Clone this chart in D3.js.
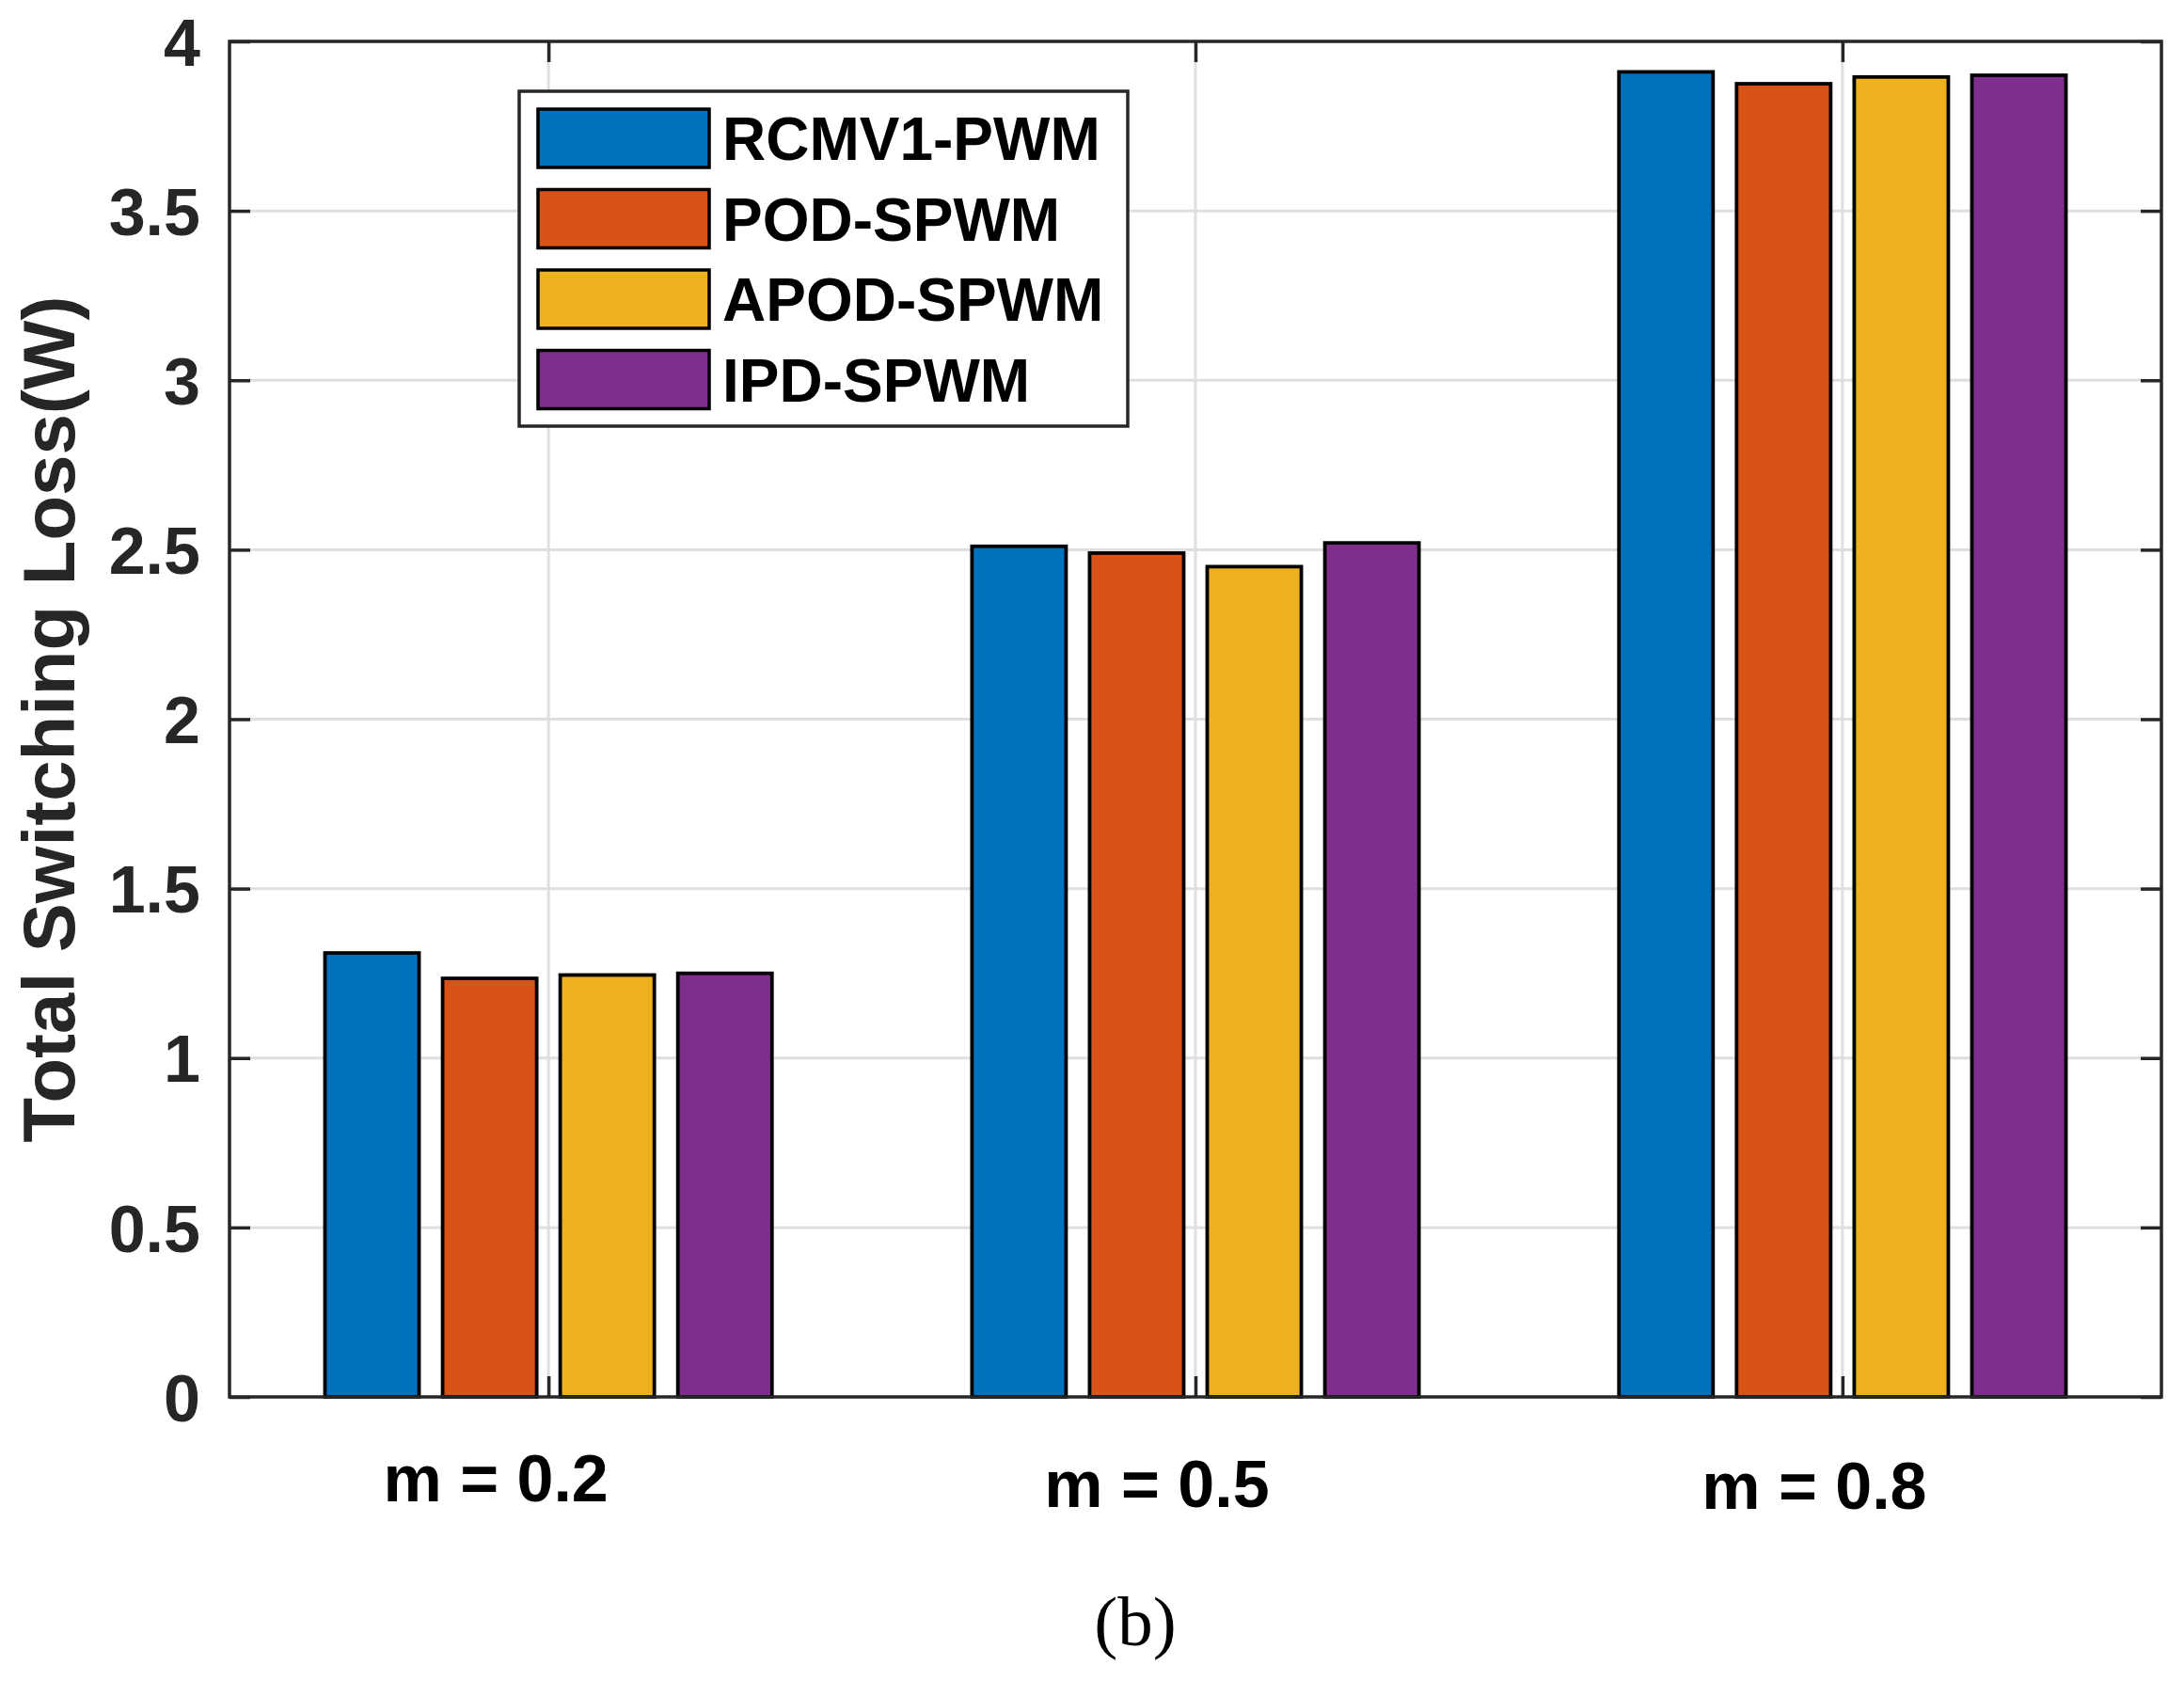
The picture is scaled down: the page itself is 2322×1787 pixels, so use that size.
<!DOCTYPE html>
<html>
<head>
<meta charset="utf-8">
<script src="https://cdn.jsdelivr.net/npm/d3@7"></script>
<style>
  html, body { margin: 0; padding: 0; background: #ffffff; }
  svg { display: block; }
</style>
</head>
<body>
<svg id="chart" width="2322" height="1787"></svg>
<script>
// ---------------- data ----------------
const categories = ["m = 0.2", "m = 0.5", "m = 0.8"];
const seriesNames = ["RCMV1-PWM", "POD-SPWM", "APOD-SPWM", "IPD-SPWM"];
const rcmv1Pwm = [1.31, 2.51, 3.91];
const podSpwm  = [1.235, 2.49, 3.875];
const apodSpwm = [1.245, 2.45, 3.895];
const ipdSpwm  = [1.25, 2.52, 3.90];
const yTicks = [0, 0.5, 1, 1.5, 2, 2.5, 3, 3.5, 4];
const yTickLabels = ["0", "0.5", "1", "1.5", "2", "2.5", "3", "3.5", "4"];
const yLabel = "Total Switching Loss(W)";
const caption = "(b)";

// ---------------- style / layout ----------------
const colors = ["#0072BD", "#D95319", "#EDB120", "#7E2F8E"];
const axisColor = "#262626";
const gridColor = "#dfdfdf";
const sans = "'Liberation Sans', Arial, Helvetica, sans-serif";
const serif = "'Liberation Serif', 'Times New Roman', serif";
const plot = { left: 244, right: 2298, top: 44, bottom: 1485 };
const tickLen = 22;
// category label nudges (px) relative to category center, like free text annotations
const catLabelNudge = [{ dx: -56, y: 1596 }, { dx: -41, y: 1602 }, { dx: -30, y: 1604 }];

const seriesValues = [rcmv1Pwm, podSpwm, apodSpwm, ipdSpwm];

const svg = d3.select("#chart");
svg.append("rect").attr("width", 2322).attr("height", 1787).attr("fill", "#fff");

const x = d3.scaleLinear().domain([0.507, 3.493]).range([plot.left, plot.right]);
const y = d3.scaleLinear().domain([0, 4]).range([plot.bottom, plot.top]);

const nS = seriesNames.length;
const groupWidth = Math.min(0.8, nS / (nS + 1.5));
const slot = groupWidth / nS;
const barW = slot * 0.8;

// ---------------- grid ----------------
const grid = svg.append("g");
grid.selectAll("line.hg").data(yTicks.filter(t => t > 0 && t < 4)).join("line")
  .attr("x1", plot.left).attr("x2", plot.right)
  .attr("y1", d => y(d)).attr("y2", d => y(d))
  .attr("stroke", gridColor).attr("stroke-width", 3);
grid.selectAll("line.vg").data(categories.map((c, i) => i + 1)).join("line")
  .attr("x1", d => x(d)).attr("x2", d => x(d))
  .attr("y1", plot.top).attr("y2", plot.bottom)
  .attr("stroke", gridColor).attr("stroke-width", 3);

// ---------------- bars ----------------
const barsG = svg.append("g");
seriesValues.forEach((vals, s) => {
  barsG.append("g").selectAll("rect").data(vals).join("rect")
    .attr("x", (d, i) => x(i + 1 + (s - (nS - 1) / 2) * slot - barW / 2))
    .attr("width", x(barW) - x(0))
    .attr("y", d => y(d))
    .attr("height", d => y(0) - y(d))
    .attr("fill", colors[s])
    .attr("stroke", "#000").attr("stroke-width", 3.8);
});

// ---------------- axes box & ticks ----------------
const ax = svg.append("g");
const yAxisL = d3.axisLeft(y).tickValues(yTicks).tickSize(-tickLen).tickFormat((d, i) => yTickLabels[i]);
const gL = ax.append("g").attr("transform", `translate(${plot.left},0)`).call(yAxisL);
gL.select(".domain").remove();
gL.selectAll(".tick line").attr("stroke", axisColor).attr("stroke-width", 3.5);
gL.selectAll(".tick text")
  .attr("x", -31)
  .attr("fill", axisColor)
  .style("font-family", sans).style("font-weight", "bold").style("font-size", "70px")
  .attr("dy", "0.36em");

const yAxisR = d3.axisRight(y).tickValues(yTicks).tickSize(-tickLen).tickFormat("");
const gR = ax.append("g").attr("transform", `translate(${plot.right},0)`).call(yAxisR);
gR.select(".domain").remove();
gR.selectAll(".tick line").attr("stroke", axisColor).attr("stroke-width", 3.5);

const xAxisB = d3.axisBottom(x).tickValues([1, 2, 3]).tickSize(-tickLen).tickFormat("");
const gB = ax.append("g").attr("transform", `translate(0,${plot.bottom})`).call(xAxisB);
gB.select(".domain").remove();
gB.selectAll(".tick line").attr("stroke", axisColor).attr("stroke-width", 3.5);

const xAxisT = d3.axisTop(x).tickValues([1, 2, 3]).tickSize(-tickLen).tickFormat("");
const gT = ax.append("g").attr("transform", `translate(0,${plot.top})`).call(xAxisT);
gT.select(".domain").remove();
gT.selectAll(".tick line").attr("stroke", axisColor).attr("stroke-width", 3.5);

ax.append("rect")
  .attr("x", plot.left).attr("y", plot.top)
  .attr("width", plot.right - plot.left).attr("height", plot.bottom - plot.top)
  .attr("fill", "none").attr("stroke", axisColor).attr("stroke-width", 3.5);

// ---------------- y label ----------------
svg.append("text")
  .attr("transform", `translate(79,${(plot.top + plot.bottom) / 2}) rotate(-90)`)
  .attr("text-anchor", "middle")
  .attr("fill", axisColor)
  .style("font-family", sans).style("font-weight", "bold").style("font-size", "78px")
  .text(yLabel);

// ---------------- category labels ----------------
svg.append("g").selectAll("text").data(categories).join("text")
  .attr("x", (d, i) => x(i + 1) + catLabelNudge[i].dx)
  .attr("y", (d, i) => catLabelNudge[i].y)
  .attr("text-anchor", "middle")
  .attr("fill", "#000")
  .style("font-family", sans).style("font-weight", "bold").style("font-size", "70px")
  .style("white-space", "pre")
  .text(d => d);

// ---------------- legend ----------------
const leg = svg.append("g");
leg.append("rect")
  .attr("x", 552).attr("y", 97).attr("width", 647).attr("height", 356)
  .attr("fill", "#fff").attr("stroke", axisColor).attr("stroke-width", 3.5);
const rowStep = 85.5;
const items = leg.selectAll("g.item").data(seriesNames).join("g")
  .attr("transform", (d, i) => `translate(0,${114 + i * rowStep})`);
items.append("rect")
  .attr("x", 572).attr("y", 2).attr("width", 182).attr("height", 62)
  .attr("fill", (d, i) => colors[i])
  .attr("stroke", "#000").attr("stroke-width", 3.5);
items.append("text")
  .attr("x", 768).attr("y", 33).attr("dy", "0.36em")
  .attr("fill", "#000")
  .style("font-family", sans).style("font-weight", "bold").style("font-size", "64px")
  .text(d => d);

// ---------------- caption ----------------
svg.append("text")
  .attr("x", 1207).attr("y", 1749)
  .attr("text-anchor", "middle")
  .attr("fill", "#000")
  .style("font-family", serif).style("font-size", "75px")
  .text(caption);
</script>
</body>
</html>
